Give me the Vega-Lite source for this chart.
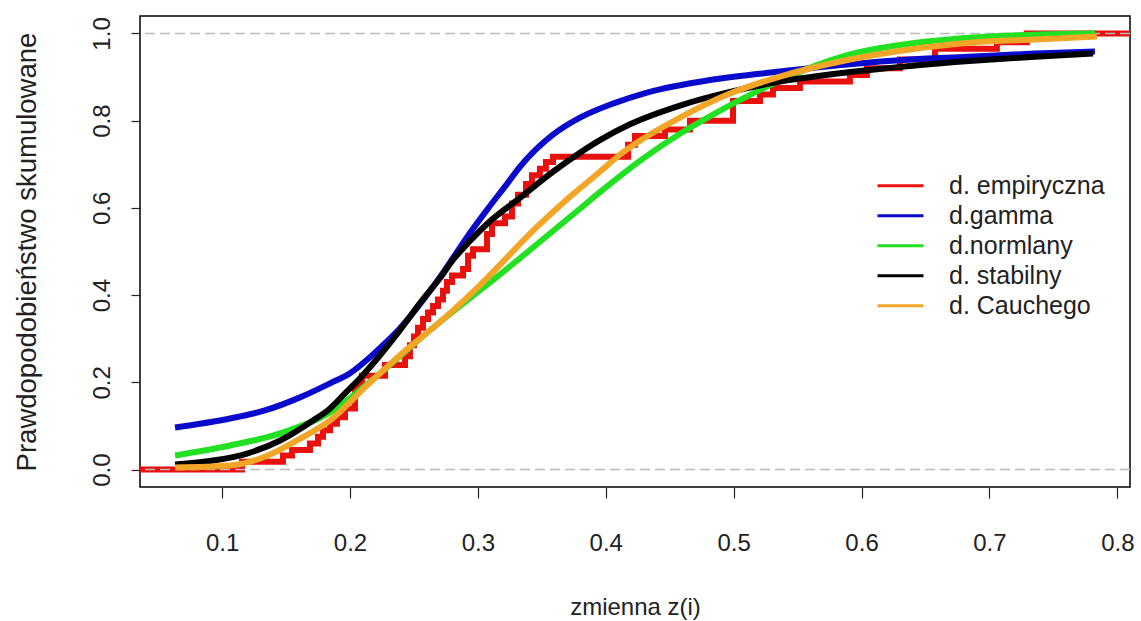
{
  "$schema": "https://vega.github.io/schema/vega-lite/v6.json",
  "width": 990,
  "height": 471,
  "autosize": {"type": "none"},
  "padding": {"left": 140, "top": 16, "right": 11, "bottom": 134},
  "background": "white",
  "config": {
    "view": {"stroke": "#000000", "strokeWidth": 1.5},
    "font": "Liberation Sans",
    "axis": {"grid": false, "domain": false, "tickColor": "#222222", "tickWidth": 1.2, "labelColor": "#222222", "titleColor": "#222222", "labelFont": "Liberation Sans", "titleFont": "Liberation Sans", "titleFontWeight": "normal"},
    "legend": {"labelFont": "Liberation Sans"}
  },
  "datasets": {
    "emp": [
      {"series": "d. empiryczna", "x": 0.03, "y": 0},
      {"series": "d. empiryczna", "x": 0.1156, "y": 0.018},
      {"series": "d. empiryczna", "x": 0.1476, "y": 0.032},
      {"series": "d. empiryczna", "x": 0.1547, "y": 0.045},
      {"series": "d. empiryczna", "x": 0.1687, "y": 0.06},
      {"series": "d. empiryczna", "x": 0.175, "y": 0.075},
      {"series": "d. empiryczna", "x": 0.1789, "y": 0.09},
      {"series": "d. empiryczna", "x": 0.1844, "y": 0.105},
      {"series": "d. empiryczna", "x": 0.1898, "y": 0.12},
      {"series": "d. empiryczna", "x": 0.1961, "y": 0.14},
      {"series": "d. empiryczna", "x": 0.2039, "y": 0.185},
      {"series": "d. empiryczna", "x": 0.2062, "y": 0.2},
      {"series": "d. empiryczna", "x": 0.2094, "y": 0.215},
      {"series": "d. empiryczna", "x": 0.2274, "y": 0.24},
      {"series": "d. empiryczna", "x": 0.243, "y": 0.26},
      {"series": "d. empiryczna", "x": 0.2469, "y": 0.285},
      {"series": "d. empiryczna", "x": 0.25, "y": 0.305},
      {"series": "d. empiryczna", "x": 0.2532, "y": 0.325},
      {"series": "d. empiryczna", "x": 0.2571, "y": 0.345},
      {"series": "d. empiryczna", "x": 0.261, "y": 0.36},
      {"series": "d. empiryczna", "x": 0.2649, "y": 0.375},
      {"series": "d. empiryczna", "x": 0.2688, "y": 0.39},
      {"series": "d. empiryczna", "x": 0.2727, "y": 0.41},
      {"series": "d. empiryczna", "x": 0.2758, "y": 0.43},
      {"series": "d. empiryczna", "x": 0.2798, "y": 0.445},
      {"series": "d. empiryczna", "x": 0.2884, "y": 0.46},
      {"series": "d. empiryczna", "x": 0.2923, "y": 0.49},
      {"series": "d. empiryczna", "x": 0.2962, "y": 0.505},
      {"series": "d. empiryczna", "x": 0.3071, "y": 0.54},
      {"series": "d. empiryczna", "x": 0.311, "y": 0.565},
      {"series": "d. empiryczna", "x": 0.3212, "y": 0.58},
      {"series": "d. empiryczna", "x": 0.3267, "y": 0.61},
      {"series": "d. empiryczna", "x": 0.3314, "y": 0.63},
      {"series": "d. empiryczna", "x": 0.3376, "y": 0.655},
      {"series": "d. empiryczna", "x": 0.3423, "y": 0.675},
      {"series": "d. empiryczna", "x": 0.3485, "y": 0.69},
      {"series": "d. empiryczna", "x": 0.3532, "y": 0.705},
      {"series": "d. empiryczna", "x": 0.3587, "y": 0.717},
      {"series": "d. empiryczna", "x": 0.4174, "y": 0.745},
      {"series": "d. empiryczna", "x": 0.4228, "y": 0.765},
      {"series": "d. empiryczna", "x": 0.4463, "y": 0.78},
      {"series": "d. empiryczna", "x": 0.4658, "y": 0.8},
      {"series": "d. empiryczna", "x": 0.4995, "y": 0.845},
      {"series": "d. empiryczna", "x": 0.5206, "y": 0.86},
      {"series": "d. empiryczna", "x": 0.5307, "y": 0.875},
      {"series": "d. empiryczna", "x": 0.5518, "y": 0.89},
      {"series": "d. empiryczna", "x": 0.5909, "y": 0.905},
      {"series": "d. empiryczna", "x": 0.6042, "y": 0.92},
      {"series": "d. empiryczna", "x": 0.63, "y": 0.94},
      {"series": "d. empiryczna", "x": 0.6574, "y": 0.965},
      {"series": "d. empiryczna", "x": 0.7058, "y": 0.98},
      {"series": "d. empiryczna", "x": 0.7293, "y": 1.0},
      {"series": "d. empiryczna", "x": 0.83, "y": 1.0}
    ],
    "gamma": [
      {"series": "d.gamma", "x": 0.0632, "y": 0.0966},
      {"series": "d.gamma", "x": 0.1063, "y": 0.1172},
      {"series": "d.gamma", "x": 0.1335, "y": 0.1356},
      {"series": "d.gamma", "x": 0.1609, "y": 0.1655},
      {"series": "d.gamma", "x": 0.1844, "y": 0.1977},
      {"series": "d.gamma", "x": 0.2, "y": 0.2207},
      {"series": "d.gamma", "x": 0.2156, "y": 0.2575},
      {"series": "d.gamma", "x": 0.2274, "y": 0.2897},
      {"series": "d.gamma", "x": 0.2391, "y": 0.3241},
      {"series": "d.gamma", "x": 0.2571, "y": 0.3885},
      {"series": "d.gamma", "x": 0.2704, "y": 0.4414},
      {"series": "d.gamma", "x": 0.2805, "y": 0.4851},
      {"series": "d.gamma", "x": 0.2938, "y": 0.5425},
      {"series": "d.gamma", "x": 0.3071, "y": 0.5954},
      {"series": "d.gamma", "x": 0.3228, "y": 0.6552},
      {"series": "d.gamma", "x": 0.3329, "y": 0.6943},
      {"series": "d.gamma", "x": 0.3587, "y": 0.7678},
      {"series": "d.gamma", "x": 0.3798, "y": 0.8069},
      {"series": "d.gamma", "x": 0.4056, "y": 0.8391},
      {"series": "d.gamma", "x": 0.4322, "y": 0.8644},
      {"series": "d.gamma", "x": 0.4838, "y": 0.8943},
      {"series": "d.gamma", "x": 0.5362, "y": 0.9126},
      {"series": "d.gamma", "x": 0.5886, "y": 0.9287},
      {"series": "d.gamma", "x": 0.6378, "y": 0.9402},
      {"series": "d.gamma", "x": 0.6871, "y": 0.9471},
      {"series": "d.gamma", "x": 0.7356, "y": 0.954},
      {"series": "d.gamma", "x": 0.7825, "y": 0.9586}
    ],
    "norm": [
      {"series": "d.normlany", "x": 0.0632, "y": 0.0322},
      {"series": "d.normlany", "x": 0.1063, "y": 0.0552},
      {"series": "d.normlany", "x": 0.1454, "y": 0.0828},
      {"series": "d.normlany", "x": 0.1844, "y": 0.131},
      {"series": "d.normlany", "x": 0.2235, "y": 0.2207},
      {"series": "d.normlany", "x": 0.2626, "y": 0.3195},
      {"series": "d.normlany", "x": 0.3017, "y": 0.4115},
      {"series": "d.normlany", "x": 0.3118, "y": 0.4345},
      {"series": "d.normlany", "x": 0.3407, "y": 0.5034},
      {"series": "d.normlany", "x": 0.3798, "y": 0.598},
      {"series": "d.normlany", "x": 0.3954, "y": 0.636},
      {"series": "d.normlany", "x": 0.4291, "y": 0.713},
      {"series": "d.normlany", "x": 0.458, "y": 0.77},
      {"series": "d.normlany", "x": 0.4838, "y": 0.814},
      {"series": "d.normlany", "x": 0.5362, "y": 0.892},
      {"series": "d.normlany", "x": 0.562, "y": 0.924},
      {"series": "d.normlany", "x": 0.5909, "y": 0.952},
      {"series": "d.normlany", "x": 0.63, "y": 0.9737},
      {"series": "d.normlany", "x": 0.6871, "y": 0.9908},
      {"series": "d.normlany", "x": 0.7395, "y": 0.9977},
      {"series": "d.normlany", "x": 0.7825, "y": 1.0}
    ],
    "stab": [
      {"series": "d. stabilny", "x": 0.0632, "y": 0.0115},
      {"series": "d. stabilny", "x": 0.0929, "y": 0.0207},
      {"series": "d. stabilny", "x": 0.1195, "y": 0.0368},
      {"series": "d. stabilny", "x": 0.1454, "y": 0.0667},
      {"series": "d. stabilny", "x": 0.1711, "y": 0.1126},
      {"series": "d. stabilny", "x": 0.1844, "y": 0.1402},
      {"series": "d. stabilny", "x": 0.1961, "y": 0.1747},
      {"series": "d. stabilny", "x": 0.2078, "y": 0.2092},
      {"series": "d. stabilny", "x": 0.2235, "y": 0.2621},
      {"series": "d. stabilny", "x": 0.2391, "y": 0.3195},
      {"series": "d. stabilny", "x": 0.2547, "y": 0.3816},
      {"series": "d. stabilny", "x": 0.2704, "y": 0.4391},
      {"series": "d. stabilny", "x": 0.2805, "y": 0.4805},
      {"series": "d. stabilny", "x": 0.2938, "y": 0.5241},
      {"series": "d. stabilny", "x": 0.3071, "y": 0.5632},
      {"series": "d. stabilny", "x": 0.3329, "y": 0.623},
      {"series": "d. stabilny", "x": 0.3587, "y": 0.6828},
      {"series": "d. stabilny", "x": 0.3798, "y": 0.7264},
      {"series": "d. stabilny", "x": 0.3954, "y": 0.7553},
      {"series": "d. stabilny", "x": 0.4189, "y": 0.7917},
      {"series": "d. stabilny", "x": 0.458, "y": 0.8347},
      {"series": "d. stabilny", "x": 0.4971, "y": 0.866},
      {"series": "d. stabilny", "x": 0.5362, "y": 0.8895},
      {"series": "d. stabilny", "x": 0.5909, "y": 0.9114},
      {"series": "d. stabilny", "x": 0.6378, "y": 0.9255},
      {"series": "d. stabilny", "x": 0.6871, "y": 0.9372},
      {"series": "d. stabilny", "x": 0.7356, "y": 0.9466},
      {"series": "d. stabilny", "x": 0.781, "y": 0.954}
    ],
    "cauchy": [
      {"series": "d. Cauchego", "x": 0.0632, "y": 0.0046},
      {"series": "d. Cauchego", "x": 0.1063, "y": 0.0092},
      {"series": "d. Cauchego", "x": 0.1319, "y": 0.0276},
      {"series": "d. Cauchego", "x": 0.1585, "y": 0.0667},
      {"series": "d. Cauchego", "x": 0.1844, "y": 0.1126},
      {"series": "d. Cauchego", "x": 0.2133, "y": 0.1931},
      {"series": "d. Cauchego", "x": 0.2391, "y": 0.2621},
      {"series": "d. Cauchego", "x": 0.2626, "y": 0.3195},
      {"series": "d. Cauchego", "x": 0.2782, "y": 0.3586},
      {"series": "d. Cauchego", "x": 0.3017, "y": 0.423},
      {"series": "d. Cauchego", "x": 0.3462, "y": 0.5563},
      {"series": "d. Cauchego", "x": 0.372, "y": 0.6253},
      {"series": "d. Cauchego", "x": 0.3954, "y": 0.6828},
      {"series": "d. Cauchego", "x": 0.411, "y": 0.7218},
      {"series": "d. Cauchego", "x": 0.458, "y": 0.8069},
      {"series": "d. Cauchego", "x": 0.4971, "y": 0.8621},
      {"series": "d. Cauchego", "x": 0.5362, "y": 0.9011},
      {"series": "d. Cauchego", "x": 0.5909, "y": 0.9402},
      {"series": "d. Cauchego", "x": 0.6378, "y": 0.9632},
      {"series": "d. Cauchego", "x": 0.6871, "y": 0.9793},
      {"series": "d. Cauchego", "x": 0.7356, "y": 0.9862},
      {"series": "d. Cauchego", "x": 0.784, "y": 0.9931}
    ],
    "hlines": [{"h": 0}, {"h": 1}]
  },
  "encoding": {
    "x": {"field": "x", "type": "quantitative", "scale": {"domain": [0.0358, 0.8099], "nice": false, "zero": false},
      "axis": {"values": [0.1, 0.2, 0.3, 0.4, 0.5, 0.6, 0.7, 0.8], "format": ".1f", "tickSize": 11, "labelFontSize": 24, "labelBaseline": "alphabetic", "labelPadding": 52, "title": "zmienna z(i)", "titleFontSize": 24, "titleBaseline": "alphabetic", "titleY": 127}},
    "y": {"field": "y", "type": "quantitative", "scale": {"domain": [-0.04, 1.04], "nice": false, "zero": false},
      "axis": {"values": [0, 0.2, 0.4, 0.6, 0.8, 1.0], "format": ".1f", "tickSize": 9, "labelFontSize": 24, "labelAngle": 270, "labelAlign": "center", "labelBaseline": "alphabetic", "labelPadding": 22, "title": "Prawdopodobieństwo skumulowane", "titleFontSize": 27.5, "titleAngle": 270, "titleAlign": "center", "titleBaseline": "alphabetic", "titleX": -105, "titleY": 235.5}},
    "color": {"field": "series", "type": "nominal",
      "scale": {"domain": ["d. empiryczna", "d.gamma", "d.normlany", "d. stabilny", "d. Cauchego"], "range": ["#E8110E", "#0A0ACD", "#22E022", "#000000", "#F2A526"]},
      "legend": {"title": null, "orient": "none", "legendX": 736, "legendY": 155, "symbolType": "stroke", "symbolSize": 2116, "labelFontSize": 25, "labelOffset": 24, "labelColor": "#222222", "clipHeight": 29.3, "rowPadding": 0, "padding": 0,
        "encode": {"symbols": {"update": {"strokeWidth": {"value": 3}}}}}}
  },
  "layer": [
    {"data": {"name": "emp"}, "mark": {"type": "line", "interpolate": "step-after", "strokeWidth": 6, "clip": true}},
    {"data": {"name": "hlines"}, "mark": {"type": "rule", "color": "#BBBBBB", "strokeWidth": 1.5, "strokeDash": [10, 5]},
      "encoding": {"y": {"field": "h", "type": "quantitative"}, "x": null, "color": null}},
    {"data": {"name": "gamma"}, "mark": {"type": "line", "interpolate": "monotone", "strokeWidth": 6}},
    {"data": {"name": "norm"}, "mark": {"type": "line", "interpolate": "monotone", "strokeWidth": 6}},
    {"data": {"name": "stab"}, "mark": {"type": "line", "interpolate": "monotone", "strokeWidth": 6}},
    {"data": {"name": "cauchy"}, "mark": {"type": "line", "interpolate": "monotone", "strokeWidth": 6}}
  ]
}
